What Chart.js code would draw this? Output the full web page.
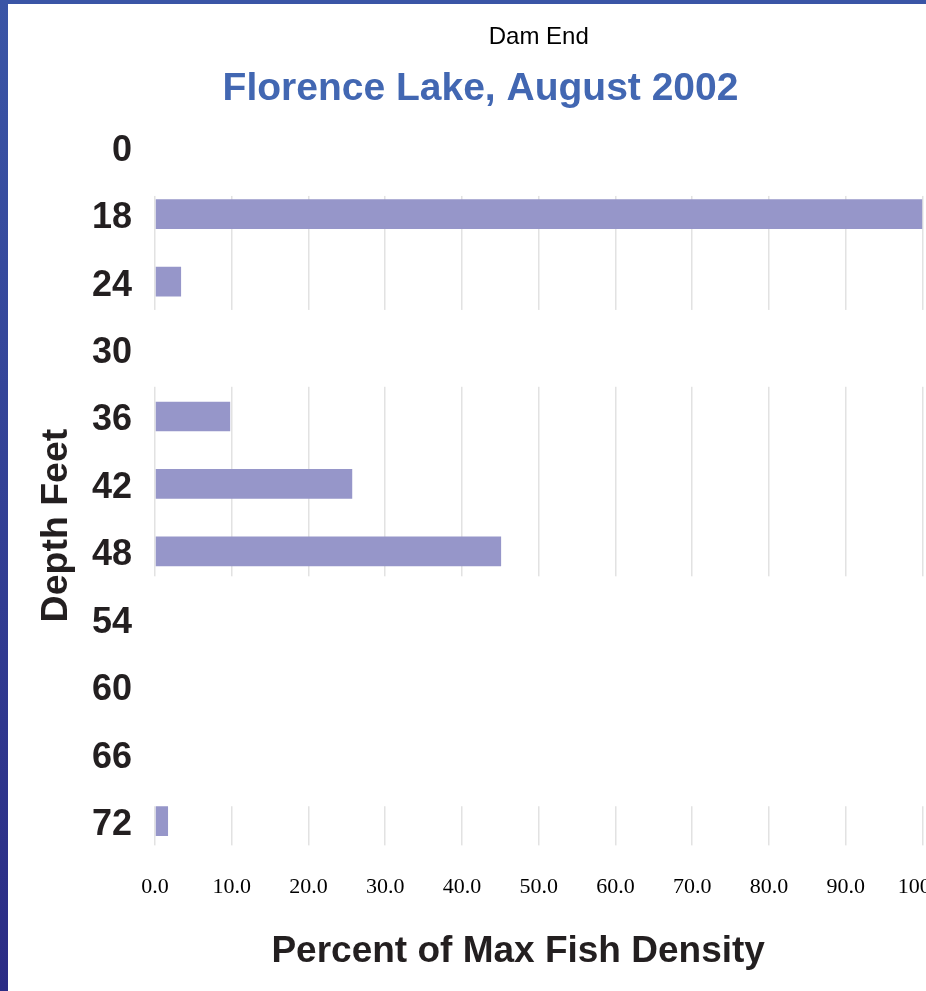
<!DOCTYPE html>
<html><head><meta charset="utf-8">
<script src="https://cdn.jsdelivr.net/npm/chart.js@4.4.1/dist/chart.umd.min.js"></script>
<style>
html,body{margin:0;padding:0;overflow:hidden;background:#fff;width:926px;height:991px;}
#wrap{position:absolute;left:0;top:0;width:966px;height:991px;}
#leftbar{position:absolute;left:0;top:0;width:8px;height:991px;background:linear-gradient(#3a55a6,#2b2c85);}
#topbar{position:absolute;left:0;top:0;width:926px;height:4px;background:#3a55a6;}
</style></head><body>
<div id="wrap"><canvas id="c"></canvas></div>
<div id="leftbar"></div><div id="topbar"></div>
<script>
// ---- data ----
const depthLabels = ['0','18','24','30','36','42','48','54','60','66','72'];
const densityValues = [0, 100, 3.4, 0, 9.8, 25.7, 45.1, 0, 0, 0, 1.7];
const percentTicks = [0, 10, 20, 30, 40, 50, 60, 70, 80, 90, 100];
const titleText = 'Dam End';
const subtitleText = 'Florence Lake, August 2002';
const xTitleText = 'Percent of Max Fish Density';
const yTitleText = 'Depth Feet';

const SANS = "'Liberation Sans', Arial, sans-serif";
const SERIF = "'Liberation Serif', 'Times New Roman', serif";

const gridMask = {
  id: 'gridMask',
  beforeDatasetsDraw(chart, args, opts) {
    const {ctx, chartArea: a, scales: {y}} = chart;
    const step = y.getPixelForValue(1) - y.getPixelForValue(0);
    const spans = opts.bands.map(b => [
      y.getPixelForValue(depthLabels.indexOf(b.from)) - b.above * step,
      y.getPixelForValue(depthLabels.indexOf(b.to)) + b.below * step
    ]).sort((p, q) => p[0] - q[0]);
    ctx.save();
    ctx.fillStyle = '#ffffff';
    let cur = a.top - 2;
    const L = a.left - 4, W = a.right - a.left + 8;
    for (const [s, e] of spans) {
      if (s > cur) ctx.fillRect(L, cur, W, s - cur);
      cur = Math.max(cur, e);
    }
    if (a.bottom + 2 > cur) ctx.fillRect(L, cur, W, a.bottom + 2 - cur);
    ctx.restore();
  }
};

new Chart(document.getElementById('c'), {
  type: 'bar',
  data: {
    labels: depthLabels,
    datasets: [{
      data: densityValues,
      backgroundColor: 'rgb(150,150,201)',
      borderWidth: 0,
      barPercentage: 0.44,
      categoryPercentage: 1.0
    }]
  },
  plugins: [gridMask],
  options: {
    indexAxis: 'y',
    responsive: true,
    maintainAspectRatio: false,
    animation: false,
    layout: {padding: {top: 22.6, left: 0, right: 5, bottom: 0}},
    plugins: {
      legend: {display: false},
      tooltip: {enabled: false},
      title: {
        display: true, text: titleText, fullSize: false, color: '#000',
        font: {family: SANS, size: 24, weight: 'normal', lineHeight: 1.2},
        padding: {top: 0, bottom: 14.2}
      },
      subtitle: {
        display: true, text: subtitleText, fullSize: true, color: '#4267b2',
        font: {family: SANS, size: 39, weight: 'bold', lineHeight: 1.2},
        padding: {top: 0, bottom: 0.6}
      },
      gridMask: {
        bands: [
          {from: '18', to: '24', above: 0.27, below: 0.42},
          {from: '36', to: '48', above: 0.44, below: 0.37},
          {from: '72', to: '72', above: 0.22, below: 0.36}
        ]
      }
    },
    scales: {
      x: {
        type: 'linear', position: 'bottom', min: 0, max: 100,
        afterBuildTicks: s => { s.ticks = percentTicks.map(v => ({value: v})); },
        grid: {color: '#e2e2e2', lineWidth: 1.5, drawTicks: false},
        border: {display: false},
        ticks: {
          color: '#000', padding: 18.8, autoSkip: false, maxRotation: 0,
          font: {family: SERIF, size: 22, lineHeight: 1.2},
          callback: v => Number(v).toFixed(1)
        },
        title: {
          display: true, text: xTitleText + '    ', color: '#231f20',
          font: {family: SANS, size: 37, weight: 'bold', lineHeight: 1.2},
          padding: {top: 10.4, bottom: 17.4}
        }
      },
      y: {
        type: 'category',
        grid: {display: false, drawTicks: false},
        border: {display: false},
        ticks: {
          color: '#231f20', padding: 23, labelOffset: 4,
          font: {family: SANS, size: 36, weight: 'bold', lineHeight: 1.2}
        },
        title: {
          display: true, text: yTitleText + '        ', color: '#231f20',
          font: {family: SANS, size: 37.5, weight: 'bold', lineHeight: 0.9},
          padding: {top: 40.1, bottom: -4.9}
        }
      }
    }
  }
});
</script>
</body></html>
